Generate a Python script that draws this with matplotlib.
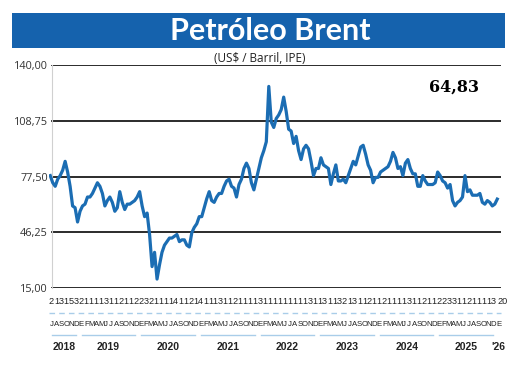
import numpy as np
import matplotlib
matplotlib.use("Agg")
import matplotlib.pyplot as plt
from matplotlib.patches import Rectangle
from matplotlib.transforms import blended_transform_factory

# Brent, two readings per month, Jul 2018 .. Dec 2025, then last value Jan 2026
prices = [
    78, 74, 72, 76, 78, 81, 86, 80, 72, 61, 60, 52,                      # 2018
    58, 61, 62, 66, 66, 68, 71, 74, 72, 68, 61, 64,
    66, 63, 58, 60, 69, 63, 59, 62, 62, 63, 64, 66,                      # 2019
    69, 61, 55, 57, 45, 27, 35, 20, 28, 35, 39, 41,
    43, 43, 44, 45, 41, 42, 42, 39, 38, 46, 49, 51,                      # 2020
    55, 55, 60, 65, 69, 64, 63, 66, 68, 68, 72, 75,
    76, 72, 71, 66, 73, 76, 82, 85, 82, 74, 70, 76,                      # 2021
    82, 88, 92, 97, 128, 108, 105, 110, 112, 115, 122, 114,
    104, 103, 96, 100, 92, 87, 93, 95, 93, 86, 78, 82,                   # 2022
    82, 88, 84, 83, 82, 73, 79, 84, 75, 75, 76, 74,
    78, 82, 86, 84, 89, 94, 95, 90, 84, 81, 74, 77,                      # 2023
    77, 80, 81, 82, 83, 86, 91, 88, 82, 83, 78, 85,
    87, 82, 79, 79, 72, 72, 78, 75, 73, 73, 73, 74,                      # 2024
    80, 78, 75, 74, 71, 73, 64, 61, 63, 64, 66, 78,
    69, 70, 67, 67, 67, 68, 63, 62, 64, 63, 61, 62,                      # 2025
    64.83,
]
last_value = "64,83"

months = list("JASOND") + list("EFMAMJJASOND") * 7 + ["E"]
day_digits = ("2131532111131121122321111411214111311211113"
              "11111111131131132131121121111311211223311211113")
last_day = "20"
years = ["2018", "2019", "2020", "2021", "2022", "2023", "2024", "2025", "'26"]
year_months = [6, 12, 12, 12, 12, 12, 12, 12, 1]

yticks = [15.0, 46.25, 77.5, 108.75, 140.0]
ytick_labels = ["15,00", "46,25", "77,50", "108,75", "140,00"]

blue = "#1562ad"
line_blue = "#1b6db3"
light_blue = "#a9cde9"
ink = "#222222"

label_font = "Liberation Sans"

fig = plt.figure(figsize=(5.2, 3.7), dpi=100)
fig.patch.set_facecolor("white")

# title banner
fig.patches.append(Rectangle((12 / 520, 1 - 48 / 370), 493 / 520, 35 / 370,
                             transform=fig.transFigure, facecolor=blue,
                             edgecolor="none", zorder=0))
fig.text(270 / 520, 1 - 31 / 370, "Petróleo Brent", color="white",
         fontsize=22, fontweight="bold", family="Lato", ha="center", va="center")
fig.text(260 / 520, 1 - 58 / 370, "(US$ / Barril, IPE)", color=ink,
         fontsize=8.5, family="Open Sans", ha="center", va="center")

ax = fig.add_axes([49 / 520, 1 - 288 / 370, 452 / 520, 223 / 370])
for s in ["top", "right", "bottom"]:
    ax.spines[s].set_visible(False)
ax.spines["left"].set_position(("data", 0.6))
ax.spines["left"].set_color("#d0d0d0")
ax.spines["left"].set_linewidth(0.8)
ax.patch.set_alpha(0)

n_months = len(months)
x = np.arange(len(prices)) / 2 + 0.25
ax.plot(x, prices, color=line_blue, lw=2.3, solid_joinstyle="round", zorder=3)

ax.set_xlim(0, n_months)
ax.set_ylim(15, 140)
for v in yticks:
    ax.axhline(v, color="#1a1a1a", lw=1.3, zorder=2, xmin=3 / 452, xmax=1)
ax.set_xticks([])
ax.set_yticks(yticks)
ax.set_yticklabels(ytick_labels)
ax.tick_params(axis="y", length=0, pad=3, labelsize=7.8, labelcolor="#333333")
for lab in ax.get_yticklabels():
    lab.set_family("Open Sans")

ax.text(0.896, 0.9, last_value, transform=ax.transAxes, fontsize=11.5,
        fontweight="bold", family="DejaVu Serif", ha="center", va="center")

# month labels below the plot
tr = blended_transform_factory(ax.transData, fig.transFigure)
for i, m in enumerate(months):
    if i < len(day_digits):
        ax.text(i + 0.5, 1 - 302 / 370, day_digits[i], transform=tr,
                family=label_font, fontsize=6.6, color=ink,
                ha="center", va="center", clip_on=False)
    else:
        ax.text(i + 0.3, 1 - 302 / 370, last_day, transform=tr,
                family=label_font, fontsize=6.6, color=ink,
                ha="left", va="center", clip_on=False)
    ax.text(i + 0.5, 1 - 326 / 370, m, transform=tr, family=label_font,
            fontsize=5.6, color=ink, ha="center", va="baseline", clip_on=False)
ax.plot([0, n_months], [1 - 313 / 370] * 2, transform=tr, color=light_blue,
        lw=1.0, ls=(0, (4, 3)), clip_on=False)

start = 0
for yr, k in zip(years, year_months):
    ax.text(start + k / 2, 1 - 347 / 370, yr, transform=tr, family=label_font,
            fontweight="bold", fontsize=7.5, color=ink,
            ha="center", va="center", clip_on=False)
    if k > 1:
        ax.plot([start + 0.6, start + k - 0.6], [1 - 335 / 370] * 2, transform=tr,
                color=light_blue, lw=1.0, clip_on=False)
    start += k

fig.savefig("out.png", dpi=100)
